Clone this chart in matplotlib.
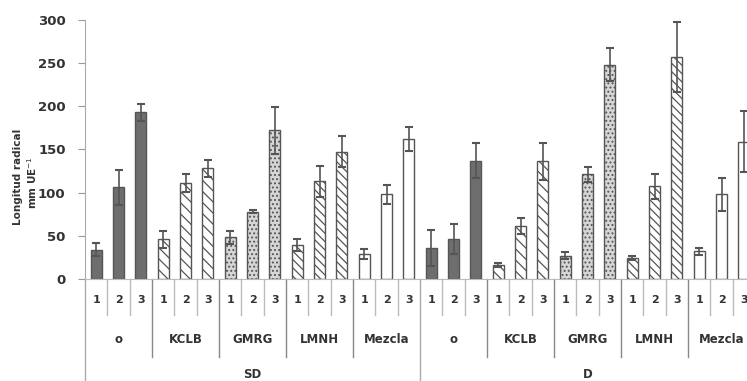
import matplotlib
matplotlib.use("Agg")
import matplotlib.pyplot as plt
import numpy as np

periods = ["SD", "D"]
groups = ["o", "KCLB", "GMRG", "LMNH", "Mezcla"]
levels = ["1", "2", "3"]

values_SD = [[34, 106, 193], [46, 111, 128], [48, 78, 172], [39, 113, 147], [29, 98, 162]]
errors_SD = [[7, 20, 10], [10, 10, 10], [8, 2, 27], [7, 18, 18], [6, 11, 14]]
values_D = [[36, 46, 137], [16, 61, 136], [27, 121, 248], [24, 107, 257], [32, 98, 159]]
errors_D = [[21, 17, 20], [2, 9, 21], [4, 9, 19], [2, 15, 41], [4, 19, 35]]

yticks = [0, 50, 100, 150, 200, 250, 300]

styles = {
    "o": dict(facecolor="#6e6e6e", hatch=None),
    "KCLB": dict(facecolor="white", hatch="\\\\\\"),
    "GMRG": dict(facecolor="#d6d6d6", hatch="...."),
    "LMNH": dict(facecolor="white", hatch="\\\\\\\\"),
    "Mezcla": dict(facecolor="white", hatch=None),
}

fig = plt.figure(figsize=(7.47, 3.81), dpi=100)
ax = fig.add_axes([0.1138, 0.268, 0.897, 0.68])

plt.rcParams['hatch.color'] = '#444444'
plt.rcParams['hatch.linewidth'] = 0.9

all_vals = [values_SD, values_D]
all_errs = [errors_SD, errors_D]
pos = 0
for p, period in enumerate(periods):
    for g, grp in enumerate(groups):
        st = styles[grp]
        for l in range(3):
            ax.bar(pos, all_vals[p][g][l], width=0.5, facecolor=st["facecolor"],
                   hatch=st["hatch"], edgecolor="#555555", linewidth=1.0, zorder=2)
            ax.errorbar(pos, all_vals[p][g][l], yerr=all_errs[p][g][l], fmt="none",
                        ecolor="#555555", elinewidth=1.2, capsize=3, capthick=1.5, zorder=3)
            pos += 1

n = pos
ax.set_xlim(-0.5, n - 0.5)
ax.set_ylim(0, 300)
ax.set_yticks(yticks)
ax.set_yticklabels([str(t) for t in yticks], fontsize=9.5, fontweight="bold", color="#333333")
ax.tick_params(axis="y", length=5, color="#999999", pad=9)
ax.set_xticks([])
for s in ["top", "right"]:
    ax.spines[s].set_visible(False)
ax.spines["left"].set_color("#aaaaaa")
ax.spines["bottom"].set_color("#bbbbbb")

trans = ax.get_xaxis_transform()
# separators
for i in range(n + 1):
    x = i - 0.5
    if i % 15 == 0:
        y0, col = -0.42, "#aaaaaa"
    elif i % 3 == 0:
        y0, col = -0.30, "#888888"
    else:
        y0, col = -0.139, "#bbbbbb"
    ax.plot([x, x], [0, y0], transform=trans, color=col, lw=1.0, clip_on=False)

pos = 0
for p, period in enumerate(periods):
    for g, grp in enumerate(groups):
        for l in range(3):
            ax.text(pos, -0.081, levels[l], transform=trans, ha="center", va="center",
                    fontsize=8, fontweight="bold", color="#333333", clip_on=False)
            pos += 1
        ax.text(pos - 2, -0.235, grp, transform=trans, ha="center", va="center",
                fontsize=8.5, fontweight="bold", color="#333333", clip_on=False)
    ax.text(pos - 8, -0.345, period, transform=trans, ha="center", va="top",
            fontsize=8.5, fontweight="bold", color="#333333", clip_on=False)

fig.text(0.024, 0.535, "Longitud radical", rotation=90, ha="center", va="center",
         fontsize=7.5, fontweight="bold", color="#333333")
fig.text(0.043, 0.52, "mm UE$^{-1}$", rotation=90, ha="center", va="center",
         fontsize=7.5, fontweight="bold", color="#333333")

fig.savefig("out.png", dpi=100)
